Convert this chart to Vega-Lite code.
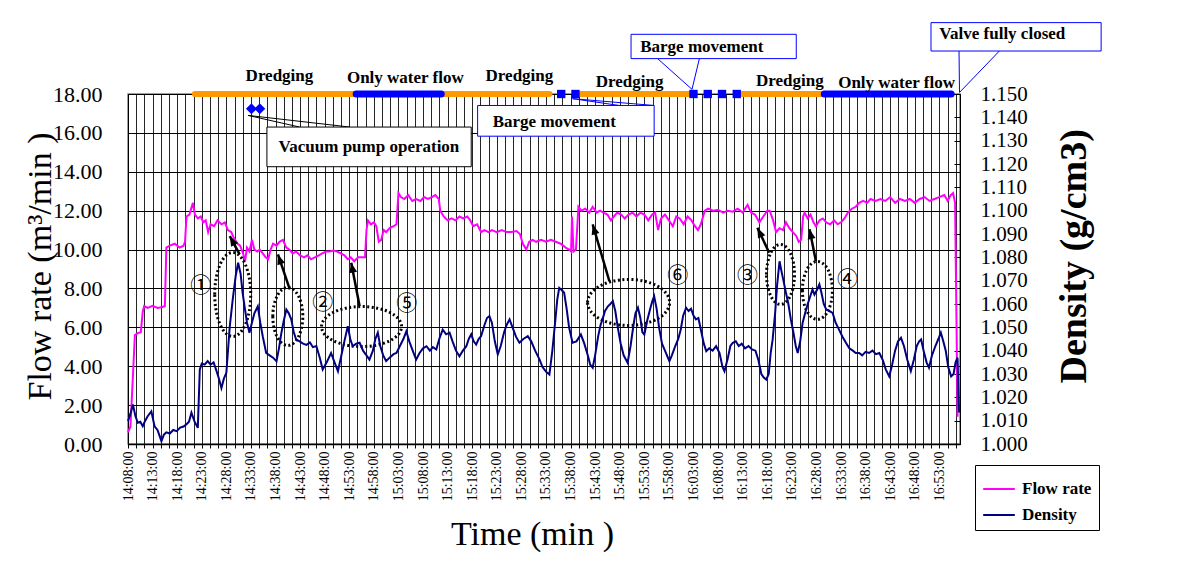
{
"$schema": "https://vega.github.io/schema/vega-lite/v6.json",
"width": 832, "height": 350,
"autosize": {"type": "none"},
"padding": {"left": 128, "top": 94, "right": 224, "bottom": 119},
"background": "white",
"config": {"view": {"stroke": "#808080", "strokeWidth": 1.5}, "font": "Liberation Serif"},
"datasets": {
"flow": [{"t":0,"v":0.6},{"t":0.5,"v":0.9},{"t":1,"v":3.5},{"t":1.4,"v":5.6},{"t":2,"v":5.7},{"t":2.6,"v":5.75},{"t":3,"v":6.8},{"t":3.3,"v":7.1},{"t":4,"v":7.0},{"t":5,"v":7.1},{"t":6,"v":7.0},{"t":7,"v":7.05},{"t":7.5,"v":7.1},{"t":7.8,"v":10.1},{"t":8.5,"v":10.2},{"t":9.5,"v":10.3},{"t":10.5,"v":10.1},{"t":11.3,"v":10.2},{"t":11.6,"v":10.4},{"t":11.9,"v":11.7},{"t":12.5,"v":11.8},{"t":13.2,"v":12.4},{"t":13.6,"v":11.8},{"t":14.2,"v":11.6},{"t":14.8,"v":11.7},{"t":15.3,"v":11.4},{"t":15.8,"v":11.5},{"t":16.3,"v":10.9},{"t":16.8,"v":11.3},{"t":17.5,"v":11.2},{"t":18.2,"v":11.5},{"t":19,"v":11.3},{"t":19.7,"v":11.4},{"t":20.3,"v":11.0},{"t":21,"v":10.9},{"t":21.5,"v":10.6},{"t":22.3,"v":10.3},{"t":22.8,"v":10.2},{"t":23.4,"v":9.8},{"t":23.8,"v":9.4},{"t":24.2,"v":10.1},{"t":24.7,"v":9.9},{"t":25.2,"v":10.5},{"t":25.7,"v":10.0},{"t":26.3,"v":9.9},{"t":26.8,"v":10.0},{"t":27.4,"v":9.8},{"t":28,"v":9.6},{"t":28.5,"v":9.5},{"t":29,"v":10.0},{"t":29.5,"v":10.3},{"t":30.2,"v":10.2},{"t":30.8,"v":10.4},{"t":31.5,"v":10.5},{"t":32.2,"v":10.1},{"t":32.8,"v":10.0},{"t":33.5,"v":9.8},{"t":34.2,"v":9.9},{"t":35,"v":9.7},{"t":35.8,"v":9.6},{"t":36.5,"v":9.7},{"t":37.2,"v":9.5},{"t":38,"v":9.6},{"t":38.8,"v":9.7},{"t":39.5,"v":9.8},{"t":40.3,"v":9.9},{"t":41,"v":9.9},{"t":41.8,"v":9.95},{"t":42.5,"v":9.9},{"t":43.3,"v":9.8},{"t":44,"v":9.7},{"t":44.7,"v":9.5},{"t":45.3,"v":9.6},{"t":46,"v":9.4},{"t":46.8,"v":9.6},{"t":47.5,"v":9.6},{"t":48.2,"v":9.6},{"t":48.5,"v":11.0},{"t":48.8,"v":11.5},{"t":49.4,"v":11.3},{"t":50,"v":11.4},{"t":50.5,"v":11.2},{"t":51,"v":10.4},{"t":51.5,"v":10.5},{"t":52,"v":11.0},{"t":52.5,"v":10.9},{"t":53.2,"v":11.1},{"t":54,"v":11.2},{"t":54.6,"v":11.3},{"t":55,"v":12.9},{"t":55.5,"v":12.7},{"t":56.2,"v":12.6},{"t":57,"v":12.8},{"t":57.8,"v":12.5},{"t":58.6,"v":12.6},{"t":59.5,"v":12.5},{"t":60.2,"v":12.7},{"t":61,"v":12.6},{"t":61.8,"v":12.7},{"t":62.5,"v":12.8},{"t":63.2,"v":12.6},{"t":63.5,"v":12.0},{"t":64.2,"v":11.7},{"t":65,"v":11.5},{"t":65.8,"v":11.6},{"t":66.6,"v":11.5},{"t":67.4,"v":11.7},{"t":68.2,"v":11.6},{"t":69,"v":11.7},{"t":69.6,"v":11.5},{"t":70.2,"v":11.2},{"t":71,"v":11.3},{"t":71.8,"v":10.9},{"t":72.5,"v":11.0},{"t":73.3,"v":10.9},{"t":74,"v":11.0},{"t":75,"v":10.9},{"t":76,"v":11.0},{"t":77,"v":10.9},{"t":78,"v":10.9},{"t":79,"v":10.95},{"t":79.7,"v":10.8},{"t":80.3,"v":10.3},{"t":81,"v":10.0},{"t":81.6,"v":10.4},{"t":82.3,"v":10.5},{"t":83,"v":10.4},{"t":84,"v":10.5},{"t":85,"v":10.4},{"t":86,"v":10.5},{"t":87,"v":10.4},{"t":88,"v":10.3},{"t":89,"v":10.1},{"t":89.7,"v":10.0},{"t":90.1,"v":9.9},{"t":90.3,"v":11.7},{"t":90.6,"v":9.9},{"t":91.1,"v":10.0},{"t":91.6,"v":12.2},{"t":92.2,"v":12.0},{"t":93,"v":12.1},{"t":93.8,"v":11.9},{"t":94.5,"v":12.2},{"t":95.3,"v":11.9},{"t":96,"v":12.0},{"t":96.7,"v":11.9},{"t":97.5,"v":11.8},{"t":98.2,"v":11.5},{"t":98.8,"v":11.7},{"t":99.5,"v":11.9},{"t":100.3,"v":11.8},{"t":101,"v":11.6},{"t":101.8,"v":11.8},{"t":102.6,"v":11.9},{"t":103.4,"v":11.7},{"t":104.2,"v":11.9},{"t":105,"v":11.8},{"t":105.8,"v":11.5},{"t":106.6,"v":11.8},{"t":107.2,"v":11.9},{"t":107.8,"v":11.0},{"t":108.4,"v":11.6},{"t":109.2,"v":11.8},{"t":110,"v":11.5},{"t":110.8,"v":11.2},{"t":111.5,"v":11.7},{"t":112.2,"v":11.6},{"t":113,"v":11.3},{"t":113.8,"v":11.7},{"t":114.6,"v":11.5},{"t":115.3,"v":11.2},{"t":115.9,"v":11.0},{"t":116.5,"v":11.3},{"t":117.3,"v":12.0},{"t":118,"v":12.1},{"t":119,"v":12.0},{"t":120,"v":12.05},{"t":121,"v":11.9},{"t":122,"v":12.0},{"t":123,"v":11.95},{"t":124,"v":12.1},{"t":125,"v":11.9},{"t":126,"v":12.3},{"t":126.7,"v":11.9},{"t":127.5,"v":11.8},{"t":128.4,"v":11.4},{"t":129.2,"v":11.7},{"t":130,"v":12.0},{"t":130.5,"v":12.0},{"t":131.2,"v":11.5},{"t":131.8,"v":10.9},{"t":132.5,"v":11.1},{"t":133.2,"v":11.0},{"t":133.8,"v":11.4},{"t":134.5,"v":11.1},{"t":135.2,"v":10.9},{"t":135.9,"v":10.7},{"t":136.4,"v":10.4},{"t":136.9,"v":10.5},{"t":137.3,"v":11.7},{"t":137.6,"v":11.9},{"t":138.2,"v":11.6},{"t":138.8,"v":11.8},{"t":139.4,"v":11.4},{"t":139.9,"v":11.2},{"t":140.6,"v":11.5},{"t":141.3,"v":11.6},{"t":142,"v":11.4},{"t":142.8,"v":11.3},{"t":143.6,"v":11.5},{"t":144.3,"v":11.3},{"t":145,"v":11.4},{"t":145.7,"v":11.6},{"t":146.4,"v":11.9},{"t":147.2,"v":12.1},{"t":148,"v":12.2},{"t":148.7,"v":12.4},{"t":149.5,"v":12.5},{"t":150.3,"v":12.4},{"t":151,"v":12.6},{"t":152,"v":12.5},{"t":153,"v":12.6},{"t":154,"v":12.5},{"t":155,"v":12.7},{"t":156,"v":12.4},{"t":157,"v":12.6},{"t":158,"v":12.5},{"t":159,"v":12.6},{"t":160,"v":12.4},{"t":161,"v":12.6},{"t":162,"v":12.7},{"t":163,"v":12.5},{"t":164,"v":12.6},{"t":165,"v":12.7},{"t":166,"v":12.8},{"t":166.7,"v":12.5},{"t":167.3,"v":12.8},{"t":167.8,"v":12.9},{"t":168.2,"v":12.4},{"t":168.5,"v":6.0},{"t":168.7,"v":1.4}],
"density": [{"t":0,"v":1.0098},{"t":0.5,"v":1.013},{"t":1,"v":1.0169},{"t":1.5,"v":1.012},{"t":2,"v":1.0091},{"t":2.5,"v":1.0095},{"t":3,"v":1.0076},{"t":3.5,"v":1.01},{"t":4,"v":1.0119},{"t":4.75,"v":1.014},{"t":5.4,"v":1.0076},{"t":6,"v":1.006},{"t":6.8,"v":1.0012},{"t":7.3,"v":1.004},{"t":7.8,"v":1.005},{"t":8.5,"v":1.0045},{"t":9.2,"v":1.006},{"t":9.9,"v":1.0055},{"t":10.6,"v":1.007},{"t":11.3,"v":1.0075},{"t":11.9,"v":1.0085},{"t":12.4,"v":1.0095},{"t":12.9,"v":1.0134},{"t":13.5,"v":1.0098},{"t":14.2,"v":1.0069},{"t":14.6,"v":1.0319},{"t":15,"v":1.0345},{"t":15.6,"v":1.034},{"t":16.2,"v":1.0355},{"t":16.8,"v":1.034},{"t":17.4,"v":1.035},{"t":17.9,"v":1.032},{"t":18.5,"v":1.028},{"t":19,"v":1.024},{"t":19.5,"v":1.028},{"t":20,"v":1.0305},{"t":20.7,"v":1.0505},{"t":21.3,"v":1.062},{"t":21.9,"v":1.072},{"t":22.4,"v":1.0777},{"t":22.9,"v":1.073},{"t":23.3,"v":1.065},{"t":23.7,"v":1.059},{"t":24.2,"v":1.052},{"t":24.7,"v":1.0477},{"t":25.2,"v":1.052},{"t":25.7,"v":1.056},{"t":26.4,"v":1.059},{"t":26.9,"v":1.052},{"t":27.4,"v":1.0462},{"t":28.1,"v":1.039},{"t":28.8,"v":1.038},{"t":29.5,"v":1.037},{"t":30.2,"v":1.0355},{"t":30.7,"v":1.041},{"t":31.2,"v":1.0477},{"t":31.7,"v":1.053},{"t":32.2,"v":1.0576},{"t":32.7,"v":1.056},{"t":33.2,"v":1.0534},{"t":33.7,"v":1.048},{"t":34.2,"v":1.0448},{"t":34.9,"v":1.044},{"t":35.6,"v":1.043},{"t":36.3,"v":1.0425},{"t":37,"v":1.0435},{"t":37.6,"v":1.0415},{"t":38.3,"v":1.042},{"t":39,"v":1.037},{"t":39.6,"v":1.0319},{"t":40.4,"v":1.035},{"t":41.3,"v":1.039},{"t":42,"v":1.035},{"t":42.7,"v":1.0312},{"t":43.4,"v":1.038},{"t":44,"v":1.044},{"t":44.7,"v":1.0505},{"t":45.2,"v":1.045},{"t":45.7,"v":1.0419},{"t":46.4,"v":1.043},{"t":47.1,"v":1.0434},{"t":47.8,"v":1.04},{"t":48.5,"v":1.038},{"t":49.1,"v":1.0362},{"t":49.8,"v":1.04},{"t":50.3,"v":1.045},{"t":50.8,"v":1.0477},{"t":51.3,"v":1.042},{"t":51.9,"v":1.038},{"t":52.5,"v":1.0355},{"t":53.2,"v":1.037},{"t":54,"v":1.0385},{"t":54.6,"v":1.039},{"t":55.3,"v":1.042},{"t":56,"v":1.045},{"t":56.6,"v":1.0483},{"t":57.2,"v":1.044},{"t":57.9,"v":1.04},{"t":58.6,"v":1.0362},{"t":59.3,"v":1.039},{"t":60,"v":1.041},{"t":60.7,"v":1.0419},{"t":61.4,"v":1.04},{"t":62,"v":1.0415},{"t":62.7,"v":1.0405},{"t":63.3,"v":1.045},{"t":64,"v":1.049},{"t":64.7,"v":1.047},{"t":65.4,"v":1.0477},{"t":66,"v":1.044},{"t":66.7,"v":1.04},{"t":67.4,"v":1.0376},{"t":68.1,"v":1.04},{"t":68.8,"v":1.0419},{"t":69.3,"v":1.045},{"t":69.8,"v":1.047},{"t":70.3,"v":1.044},{"t":70.8,"v":1.0426},{"t":71.3,"v":1.045},{"t":71.8,"v":1.0462},{"t":72.5,"v":1.051},{"t":73,"v":1.054},{"t":73.5,"v":1.0548},{"t":74,"v":1.052},{"t":74.6,"v":1.044},{"t":75.2,"v":1.0384},{"t":75.8,"v":1.042},{"t":76.5,"v":1.048},{"t":77,"v":1.051},{"t":77.6,"v":1.0534},{"t":78.2,"v":1.05},{"t":78.9,"v":1.046},{"t":79.6,"v":1.0434},{"t":80.4,"v":1.045},{"t":81.3,"v":1.0462},{"t":82,"v":1.044},{"t":82.8,"v":1.04},{"t":83.7,"v":1.0362},{"t":84.3,"v":1.033},{"t":85,"v":1.031},{"t":85.7,"v":1.0298},{"t":86.3,"v":1.04},{"t":86.9,"v":1.053},{"t":87.3,"v":1.062},{"t":87.7,"v":1.0669},{"t":88.2,"v":1.066},{"t":88.7,"v":1.0648},{"t":89.2,"v":1.058},{"t":89.7,"v":1.05},{"t":90.4,"v":1.0434},{"t":91.2,"v":1.044},{"t":92.1,"v":1.0469},{"t":92.8,"v":1.043},{"t":93.5,"v":1.038},{"t":94,"v":1.034},{"t":94.5,"v":1.0327},{"t":95,"v":1.038},{"t":95.6,"v":1.046},{"t":96.1,"v":1.051},{"t":96.5,"v":1.0534},{"t":97,"v":1.057},{"t":97.6,"v":1.059},{"t":98.1,"v":1.06},{"t":98.6,"v":1.0612},{"t":99.1,"v":1.057},{"t":99.6,"v":1.05},{"t":100.2,"v":1.043},{"t":100.8,"v":1.038},{"t":101.6,"v":1.0348},{"t":102.2,"v":1.042},{"t":102.8,"v":1.051},{"t":103.2,"v":1.056},{"t":103.7,"v":1.0584},{"t":104.2,"v":1.054},{"t":104.6,"v":1.048},{"t":105,"v":1.0469},{"t":105.6,"v":1.053},{"t":106.2,"v":1.058},{"t":106.6,"v":1.061},{"t":107,"v":1.0633},{"t":107.5,"v":1.058},{"t":108,"v":1.05},{"t":108.6,"v":1.043},{"t":109.2,"v":1.04},{"t":110.1,"v":1.0355},{"t":110.6,"v":1.038},{"t":111.3,"v":1.042},{"t":111.9,"v":1.045},{"t":112.4,"v":1.049},{"t":112.9,"v":1.055},{"t":113.5,"v":1.0584},{"t":114,"v":1.057},{"t":114.5,"v":1.058},{"t":115,"v":1.055},{"t":115.5,"v":1.0534},{"t":116,"v":1.054},{"t":116.6,"v":1.048},{"t":117.1,"v":1.043},{"t":117.6,"v":1.0398},{"t":118.2,"v":1.041},{"t":118.9,"v":1.04},{"t":119.6,"v":1.0419},{"t":120.3,"v":1.039},{"t":120.9,"v":1.033},{"t":121.3,"v":1.0312},{"t":122,"v":1.037},{"t":122.5,"v":1.042},{"t":123,"v":1.0434},{"t":123.6,"v":1.044},{"t":124.2,"v":1.042},{"t":124.8,"v":1.043},{"t":125.5,"v":1.041},{"t":126.2,"v":1.042},{"t":126.9,"v":1.0405},{"t":127.6,"v":1.04},{"t":128.2,"v":1.036},{"t":128.8,"v":1.03},{"t":129.3,"v":1.0285},{"t":129.8,"v":1.0276},{"t":130.3,"v":1.03},{"t":130.7,"v":1.039},{"t":131.1,"v":1.0448},{"t":131.6,"v":1.056},{"t":132,"v":1.068},{"t":132.5,"v":1.0783},{"t":132.9,"v":1.074},{"t":133.3,"v":1.07},{"t":133.8,"v":1.0648},{"t":134.3,"v":1.06},{"t":134.8,"v":1.0534},{"t":135.3,"v":1.048},{"t":135.8,"v":1.042},{"t":136.2,"v":1.039},{"t":136.7,"v":1.044},{"t":137.2,"v":1.052},{"t":137.7,"v":1.056},{"t":138.2,"v":1.0598},{"t":138.7,"v":1.063},{"t":139.2,"v":1.0662},{"t":139.6,"v":1.064},{"t":140.1,"v":1.066},{"t":140.6,"v":1.0684},{"t":141,"v":1.065},{"t":141.5,"v":1.06},{"t":142,"v":1.0576},{"t":142.6,"v":1.057},{"t":143.3,"v":1.0562},{"t":143.9,"v":1.052},{"t":144.6,"v":1.049},{"t":145.3,"v":1.046},{"t":146,"v":1.0434},{"t":146.7,"v":1.041},{"t":147.4,"v":1.04},{"t":148,"v":1.039},{"t":148.7,"v":1.039},{"t":149.3,"v":1.038},{"t":150,"v":1.0395},{"t":150.7,"v":1.039},{"t":151.4,"v":1.04},{"t":152.1,"v":1.0385},{"t":152.8,"v":1.039},{"t":153.5,"v":1.036},{"t":154.1,"v":1.032},{"t":154.8,"v":1.029},{"t":155.4,"v":1.034},{"t":156,"v":1.04},{"t":156.6,"v":1.044},{"t":157.2,"v":1.0455},{"t":157.8,"v":1.042},{"t":158.5,"v":1.036},{"t":159.2,"v":1.0312},{"t":159.8,"v":1.036},{"t":160.4,"v":1.042},{"t":160.9,"v":1.044},{"t":161.3,"v":1.0448},{"t":161.8,"v":1.04},{"t":162.4,"v":1.035},{"t":162.9,"v":1.0327},{"t":163.5,"v":1.038},{"t":164.2,"v":1.042},{"t":164.8,"v":1.045},{"t":165.3,"v":1.0477},{"t":165.8,"v":1.044},{"t":166.3,"v":1.04},{"t":166.8,"v":1.033},{"t":167.4,"v":1.029},{"t":167.9,"v":1.03},{"t":168.3,"v":1.035},{"t":168.7,"v":1.037},{"t":169,"v":1.0135}],
"phases": [{"t":13.6,"t2":46.4,"k":"d"},{"t":46.4,"t2":63.7,"k":"w"},{"t":63.7,"t2":85.7,"k":"d"},{"t":91.8,"t2":114.2,"k":"d"},{"t":124.3,"t2":141.6,"k":"d"},{"t":141.6,"t2":167.4,"k":"w"}],
"squares": [{"t":88.1},{"t":91.0},{"t":115.0},{"t":117.9},{"t":120.8},{"t":123.8}],
"pumps": [{"t":25.1,"f":17.24},{"t":26.8,"f":17.24}],
"phaseLabels": [{"t":30.8,"f":18.92,"text":"Dredging"},{"t":56.4,"f":18.8,"text":"Only water flow"},{"t":79.6,"f":18.92,"text":"Dredging"},{"t":102,"f":18.61,"text":"Dredging"},{"t":134.6,"f":18.66,"text":"Dredging"},{"t":156.3,"f":18.58,"text":"Only water flow"}],
"boxes": [{"t":28.25,"t2":69.8,"f":14.26,"f2":16.3,"k":"pump"},{"t":71.1,"t2":107.0,"f":15.83,"f2":17.41,"k":"barge"},{"t":102.3,"t2":135.9,"f":19.82,"f2":21.07,"k":"barge"},{"t":163.3,"t2":197.9,"f":20.21,"f2":21.67,"k":"valve"}],
"boxTexts": [{"t":49.0,"f":15.28,"text":"Vacuum pump operation"},{"t":86.7,"f":16.57,"text":"Barge movement"},{"t":116.7,"f":20.4,"text":"Barge movement"},{"t":177.8,"f":21.07,"text":"Valve fully closed"}],
"leaders": [{"t":24.4,"f":16.9,"t2":34.9,"f2":16.3,"k":"pump"},{"t":24.4,"f":16.9,"t2":45.1,"f2":16.3,"k":"pump"},{"t":90.4,"f":17.76,"t2":99.9,"f2":17.41,"k":"barge"},{"t":90.4,"f":17.76,"t2":107,"f2":17.41,"k":"barge"},{"t":114.7,"f":18.24,"t2":107.7,"f2":19.82,"k":"barge"},{"t":114.7,"f":18.24,"t2":116.2,"f2":19.82,"k":"barge"},{"t":169.1,"f":18.08,"t2":169.0,"f2":20.21,"k":"valve"},{"t":169.1,"f":18.08,"t2":177.2,"f2":20.21,"k":"valve"}],
"ellipses": [{"id":"A","t":21.3,"f":7.69},{"id":"B","t":32.5,"f":6.56},{"id":"C","t":47.5,"f":6.04},{"id":"D","t":101.8,"f":7.28},{"id":"E","t":132.7,"f":8.72},{"id":"F","t":140.2,"f":7.9}],
"arrows": [{"id":"1","t":22.7,"f":9.75,"t2":20.7,"f2":10.69},{"id":"2","t":32.9,"f":7.95,"t2":30.5,"f2":9.75},{"id":"3","t":47.1,"f":7.09,"t2":45.4,"f2":9.32},{"id":"4","t":97.9,"f":8.37,"t2":94.5,"f2":11.29},{"id":"5","t":130.4,"f":9.84,"t2":128.0,"f2":11.12},{"id":"6","t":139.9,"f":9.4,"t2":138.6,"f2":11.05}],
"circled": [{"t":14.8,"f":8.14,"text":"①"},{"t":39.6,"f":7.26,"text":"②"},{"t":56.7,"f":7.21,"text":"⑤"},{"t":111.8,"f":8.63,"text":"⑥"},{"t":126.0,"f":8.63,"text":"③"},{"t":146.3,"f":8.46,"text":"④"}]
},
"layer": [
{
"resolve": {"scale": {"shape": "independent"}},
"layer": [
{
"data": {"name": "flow"},
"mark": {"type": "line", "strokeWidth": 2},
"encoding": {
"x": {"field": "t", "type": "quantitative",
"scale": {"domain": [0, 169.2], "nice": false, "zero": false},
"axis": {"values": [0,1.667,3.333,5,6.667,8.333,10,11.667,13.333,15,16.667,18.333,20,21.667,23.333,25,26.667,28.333,30,31.667,33.333,35,36.667,38.333,40,41.667,43.333,45,46.667,48.333,50,51.667,53.333,55,56.667,58.333,60,61.667,63.333,65,66.667,68.333,70,71.667,73.333,75,76.667,78.333,80,81.667,83.333,85,86.667,88.333,90,91.667,93.333,95,96.667,98.333,100,101.667,103.333,105,106.667,108.333,110,111.667,113.333,115,116.667,118.333,120,121.667,123.333,125,126.667,128.333,130,131.667,133.333,135,136.667,138.333,140,141.667,143.333,145,146.667,148.333,150,151.667,153.333,155,156.667,158.333,160,161.667,163.333,165,166.667,168.333],
"tickCount": 500,
"labelExpr": "datum.value % 5 == 0 ? (14 + floor((datum.value + 8) / 60)) + ':' + ((datum.value + 8) % 60 < 10 ? '0' : '') + ((datum.value + 8) % 60) + ':00' : ''",
"labelAngle": 270, "labelAlign": "right", "labelBaseline": "middle",
"labelFont": "Liberation Serif", "labelFontSize": 14, "labelColor": "black",
"labelOverlap": false, "labelPadding": 3, "labelFlush": false,
"tickSize": 4, "tickColor": "black",
"grid": true, "gridColor": "black", "gridWidth": 1, "gridOpacity": 0.85,
"domainColor": "black", "domainWidth": 1.5,
"title": "Time (min )", "titleFont": "Liberation Serif", "titleFontSize": 34, "titleFontWeight": "normal", "titleColor": "black",
"titleX": 404, "titleY": 100, "titleBaseline": "alphabetic", "titleAlign": "center"}},
"y": {"field": "v", "type": "quantitative",
"scale": {"domain": [0, 18], "nice": false},
"axis": {"values": [0,2,4,6,8,10,12,14,16,18], "tickCount": 50, "format": ".2f",
"labelFont": "Liberation Serif", "labelFontSize": 22, "labelColor": "black",
"ticks": false, "labelPadding": 26,
"grid": true, "gridColor": "black", "gridWidth": 1,
"domainColor": "black",
"title": "Flow rate (m³/min\u00a0)", "titleFont": "Liberation Serif", "titleFontSize": 34, "titleFontWeight": "normal", "titleColor": "black",
"titleAngle": 270, "titleX": -78, "titleY": 306, "titleAlign": "left", "titleBaseline": "alphabetic"}},
"color": {"datum": "Flow rate", "type": "nominal",
"scale": {"domain": ["Flow rate", "Density"], "range": ["#FF00FF", "#000080"]},
"legend": {"orient": "none", "legendX": 847, "legendY": 371, "title": null,
"symbolType": "stroke", "symbolSize": 1000, "symbolStrokeWidth": 2,
"labelFont": "Liberation Serif", "labelFontWeight": "bold", "labelFontSize": 17, "labelColor": "black",
"strokeColor": "black", "fillColor": "white", "padding": 7, "rowPadding": 1, "labelOffset": 6}}
}
},
{
"data": {"name": "phases"},
"transform": [{"filter": "datum.k == 'd'"}],
"mark": {"type": "rule", "strokeWidth": 6, "color": "#FF9900", "strokeCap": "round"},
"encoding": {
"x": {"field": "t", "type": "quantitative"},
"x2": {"field": "t2"},
"y": {"datum": 18, "type": "quantitative"}
}
},
{
"data": {"name": "phases"},
"transform": [{"filter": "datum.k == 'w'"}],
"mark": {"type": "rule", "strokeWidth": 7, "color": "#0000FF", "strokeCap": "round"},
"encoding": {
"x": {"field": "t", "type": "quantitative"},
"x2": {"field": "t2"},
"y": {"datum": 18, "type": "quantitative"}
}
},
{
"data": {"name": "squares"},
"mark": {"type": "point", "shape": "square", "filled": true, "color": "#0000FF", "size": 70, "opacity": 1},
"encoding": {
"x": {"field": "t", "type": "quantitative"},
"y": {"datum": 18, "type": "quantitative"}
}
},
{
"data": {"name": "pumps"},
"mark": {"type": "point", "shape": "diamond", "filled": true, "color": "#0000FF", "size": 120, "opacity": 1},
"encoding": {
"x": {"field": "t", "type": "quantitative"},
"y": {"field": "f", "type": "quantitative"}
}
},
{
"data": {"name": "phaseLabels"},
"mark": {"type": "text", "font": "Liberation Serif", "fontWeight": "bold", "fontSize": 17, "color": "black", "align": "center", "baseline": "middle"},
"encoding": {
"x": {"field": "t", "type": "quantitative"},
"y": {"field": "f", "type": "quantitative"},
"text": {"field": "text"}
}
},
{
"data": {"name": "leaders"},
"transform": [{"filter": "datum.k == 'pump'"}],
"mark": {"type": "rule", "strokeWidth": 1, "color": "black"},
"encoding": {
"x": {"field": "t", "type": "quantitative"},
"y": {"field": "f", "type": "quantitative"},
"x2": {"field": "t2"}, "y2": {"field": "f2"}
}
},
{
"data": {"name": "leaders"},
"transform": [{"filter": "datum.k != 'pump'"}],
"mark": {"type": "rule", "strokeWidth": 1, "color": "#0000FF"},
"encoding": {
"x": {"field": "t", "type": "quantitative"},
"y": {"field": "f", "type": "quantitative"},
"x2": {"field": "t2"}, "y2": {"field": "f2"}
}
},
{
"data": {"name": "boxes"},
"transform": [{"filter": "datum.k == 'pump'"}],
"mark": {"type": "rect", "fill": "white", "stroke": "black", "strokeWidth": 1},
"encoding": {
"x": {"field": "t", "type": "quantitative"},
"x2": {"field": "t2"},
"y": {"field": "f", "type": "quantitative"},
"y2": {"field": "f2"}
}
},
{
"data": {"name": "boxes"},
"transform": [{"filter": "datum.k != 'pump'"}],
"mark": {"type": "rect", "fill": "white", "stroke": "#0000FF", "strokeWidth": 1},
"encoding": {
"x": {"field": "t", "type": "quantitative"},
"x2": {"field": "t2"},
"y": {"field": "f", "type": "quantitative"},
"y2": {"field": "f2"}
}
},
{
"data": {"name": "boxTexts"},
"mark": {"type": "text", "font": "Liberation Serif", "fontWeight": "bold", "fontSize": 17, "color": "black", "align": "center", "baseline": "middle"},
"encoding": {
"x": {"field": "t", "type": "quantitative"},
"y": {"field": "f", "type": "quantitative"},
"text": {"field": "text"}
}
},
{
"data": {"name": "ellipses"},
"mark": {"type": "point", "filled": false, "color": "black", "strokeWidth": 3, "strokeDash": [2, 2.5], "size": 4, "opacity": 1},
"encoding": {
"x": {"field": "t", "type": "quantitative"},
"y": {"field": "f", "type": "quantitative"},
"shape": {"field": "id", "type": "nominal", "legend": null,
"scale": {"domain": ["A","B","C","D","E","F"], "range": [
"M -18 0 C -18 -23.2 -9.94 -42 0 -42 C 9.94 -42 18 -23.2 18 0 C 18 23.2 9.94 42 0 42 C -9.94 42 -18 23.2 -18 0 Z",
"M -15 0 C -15 -16 -8.28 -29 0 -29 C 8.28 -29 15 -16 15 0 C 15 16 8.28 29 0 29 C -8.28 29 -15 16 -15 0 Z",
"M -40 0 C -40 -11.05 -22.1 -20 0 -20 C 22.1 -20 40 -11.05 40 0 C 40 11.05 22.1 20 0 20 C -22.1 20 -40 11.05 -40 0 Z",
"M -41 0 C -41 -12.7 -22.6 -23 0 -23 C 22.6 -23 41 -12.7 41 0 C 41 12.7 22.6 23 0 23 C -22.6 23 -41 12.7 -41 0 Z",
"M -14 0 C -14 -16.6 -7.73 -30 0 -30 C 7.73 -30 14 -16.6 14 0 C 14 16.6 7.73 30 0 30 C -7.73 30 -14 16.6 -14 0 Z",
"M -15 0 C -15 -16 -8.28 -29 0 -29 C 8.28 -29 15 -16 15 0 C 15 16 8.28 29 0 29 C -8.28 29 -15 16 -15 0 Z"]}}
}
},
{
"data": {"name": "arrows"},
"mark": {"type": "rule", "strokeWidth": 2.5, "color": "black"},
"encoding": {
"x": {"field": "t", "type": "quantitative"},
"y": {"field": "f", "type": "quantitative"},
"x2": {"field": "t2"}, "y2": {"field": "f2"}
}
},
{
"data": {"name": "arrows"},
"mark": {"type": "point", "filled": true, "color": "black", "size": 4, "opacity": 1},
"encoding": {
"x": {"field": "t2", "type": "quantitative"},
"y": {"field": "f2", "type": "quantitative"},
"shape": {"field": "id", "type": "nominal", "legend": null,
"scale": {"domain": ["1","2","3","4","5","6"], "range": [
"M 0 0 L 8.31 6.86 L 1.29 10.7 Z",
"M 0 0 L 6.97 8.22 L -0.63 10.76 Z",
"M 0 0 L 5.81 9.07 L -2.05 10.57 Z",
"M 0 0 L 6.67 8.46 L -1.01 10.72 Z",
"M 0 0 L 7.86 7.36 L 0.62 10.76 Z",
"M 0 0 L 5.98 8.95 L -1.84 10.61 Z"]}}
}
},
{
"data": {"name": "circled"},
"mark": {"type": "text", "font": "Noto Sans CJK JP", "fontSize": 21, "color": "black", "align": "center", "baseline": "middle"},
"encoding": {
"x": {"field": "t", "type": "quantitative"},
"y": {"field": "f", "type": "quantitative"},
"text": {"field": "text"}
}
}
]
},
{
"data": {"name": "density"},
"mark": {"type": "line", "strokeWidth": 2},
"encoding": {
"x": {"field": "t", "type": "quantitative"},
"y": {"field": "v", "type": "quantitative",
"scale": {"domain": [1.0, 1.15], "nice": false, "zero": false},
"axis": {"orient": "right", "values": [1.0,1.01,1.02,1.03,1.04,1.05,1.06,1.07,1.08,1.09,1.1,1.11,1.12,1.13,1.14,1.15], "tickCount": 50, "format": ".3f",
"labelFont": "Liberation Serif", "labelFontSize": 21, "labelColor": "black",
"tickSize": -6, "tickColor": "black", "labelPadding": 26,
"grid": false, "domainColor": "black",
"title": "Density (g/cm3)", "titleFont": "Liberation Serif", "titleFontWeight": "bold", "titleFontSize": 38, "titleColor": "black",
"titleAngle": 270, "titleX": 125, "titleY": 289, "titleAlign": "left", "titleBaseline": "alphabetic"}},
"color": {"datum": "Density", "type": "nominal"}
}
}
],
"resolve": {"scale": {"y": "independent"}}
}
